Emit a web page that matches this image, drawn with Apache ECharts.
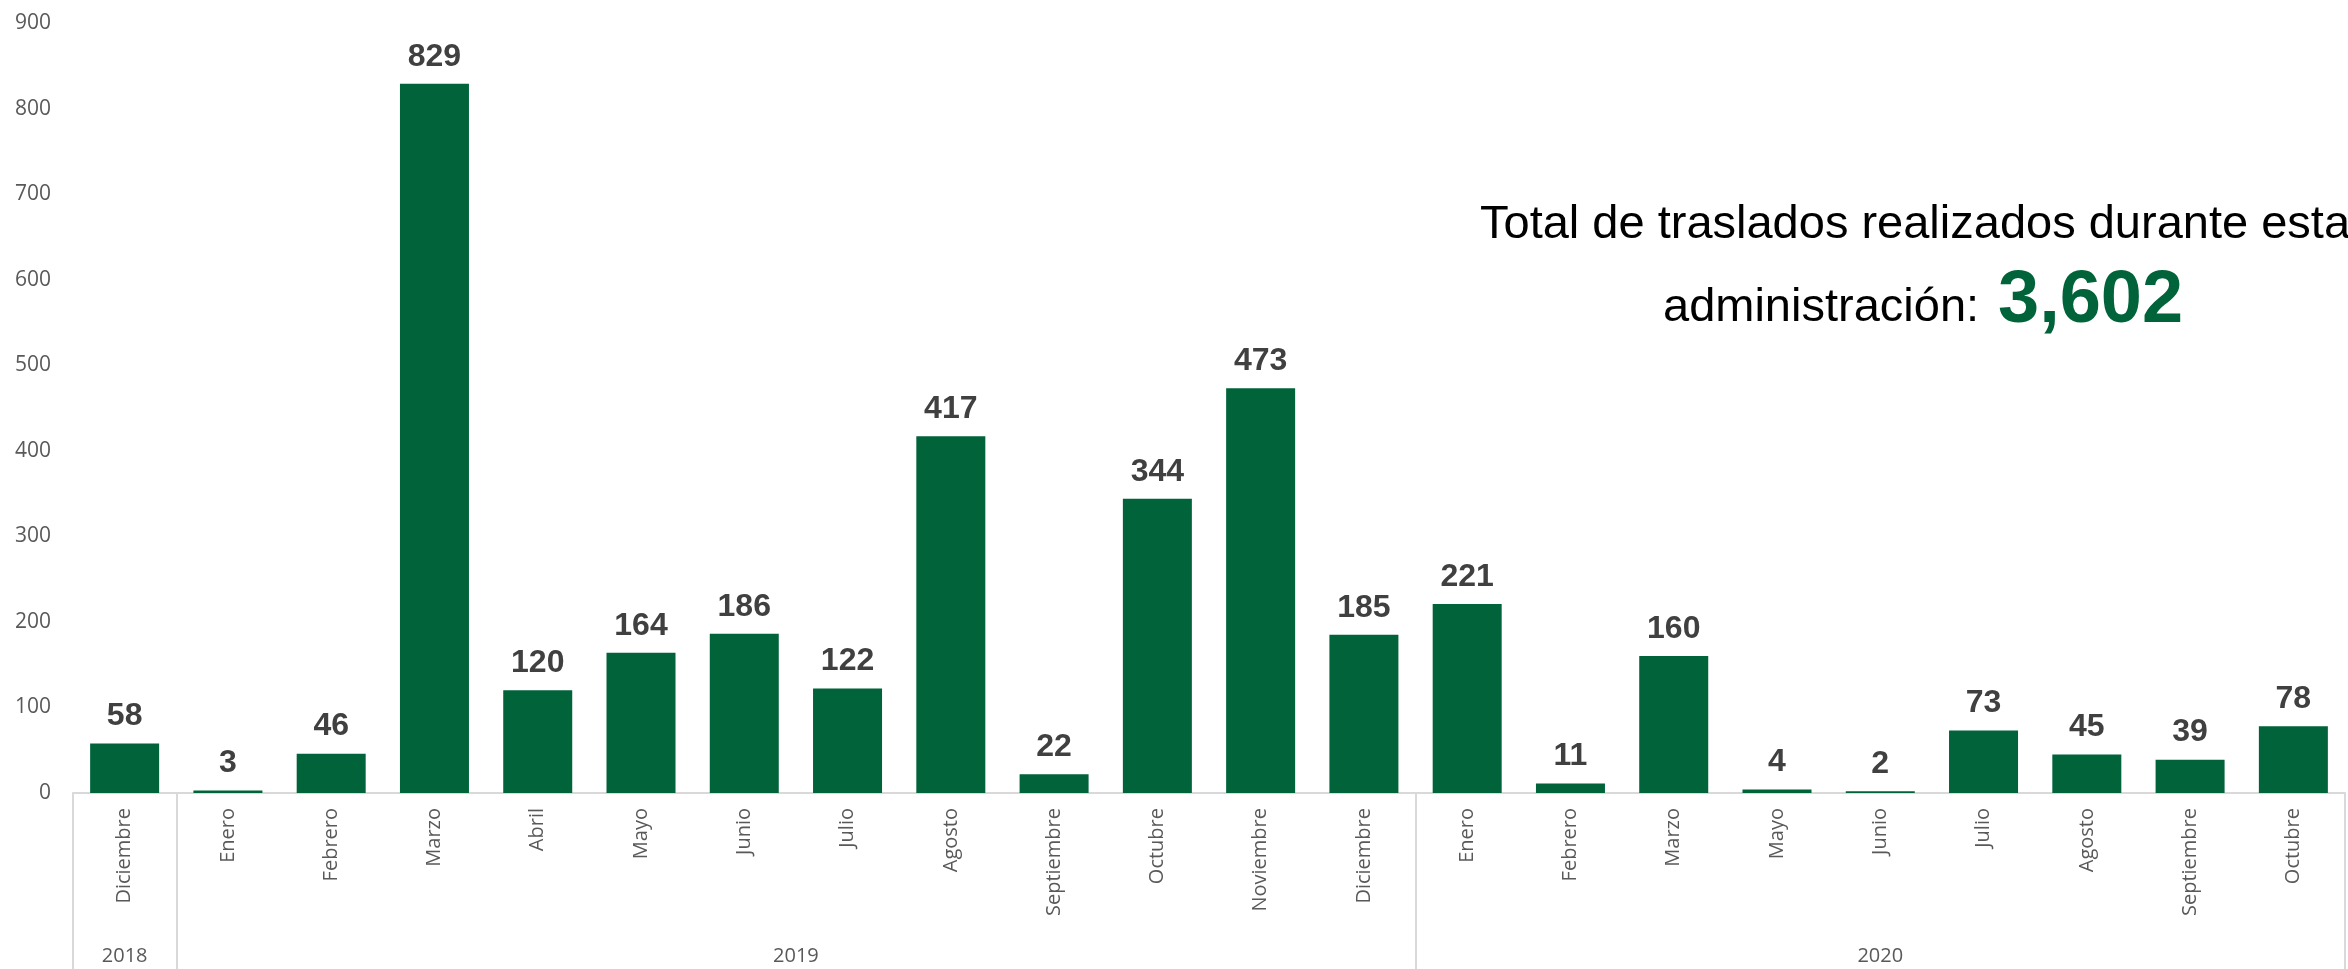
<!DOCTYPE html>
<html>
<head>
<meta charset="utf-8">
<script src="https://cdn.jsdelivr.net/npm/echarts@6/dist/echarts.min.js"></script>
<style>
html,body{margin:0;padding:0;background:#ffffff;}
#chart{width:2348px;height:969px;}
</style>
</head>
<body>
<div id="chart"></div>
<script>
var months = ['Diciembre','Enero','Febrero','Marzo','Abril','Mayo','Junio','Julio','Agosto','Septiembre','Octubre','Noviembre','Diciembre','Enero','Febrero','Marzo','Mayo','Junio','Julio','Agosto','Septiembre','Octubre'];
var traslados = [58,3,46,829,120,164,186,122,417,22,344,473,185,221,11,160,4,2,73,45,39,78];
var years = ['2018','2019','2020'];
var yearSizes = [1,12,9];
var yTicks = [0,100,200,300,400,500,600,700,800,900];
var totalLine1 = 'Total de traslados realizados durante esta';
var totalLine2 = 'administración:';
var totalValue = '3,602';

// group boundaries and centers (in category units)
var boundaries = [0];
var yearCenters = {};
(function(){
  var s = 0;
  for (var i = 0; i < yearSizes.length; i++) {
    yearCenters[(s + yearSizes[i] / 2).toFixed(1)] = years[i];
    s += yearSizes[i];
    boundaries.push(s);
  }
})();

var chart = echarts.init(document.getElementById('chart'), null, {renderer:'canvas'});
var option = {
  backgroundColor: '#ffffff',
  animation: false,
  grid: {left: 73, right: -13, top: 23, bottom: 176, containLabel: false},
  xAxis: [{
    type: 'category',
    data: months,
    boundaryGap: true,
    axisLine: {show: true, lineStyle: {color: '#d9d9d9', width: 2}},
    axisTick: {
      show: true,
      length: 176,
      interval: function(index){ return boundaries.indexOf(index) >= 0; },
      lineStyle: {color: '#d9d9d9', width: 2}
    },
    axisLabel: {
      interval: 0, rotate: 90, margin: 15,
      fontFamily: 'Open Sans', fontSize: 20, color: '#595959'
    }
  },{
    type: 'value',
    position: 'bottom',
    min: 0, max: 22, interval: 0.5,
    axisLine: {show: false},
    axisTick: {show: false},
    splitLine: {show: false},
    axisLabel: {
      margin: 153, showMinLabel: true, showMaxLabel: true,
      fontFamily: 'Open Sans', fontSize: 20, color: '#595959',
      formatter: function(v){ var k = v.toFixed(1); return yearCenters[k] || ''; }
    }
  }],
  yAxis: {
    type: 'value',
    min: yTicks[0], max: yTicks[yTicks.length-1], interval: 100,
    axisLine: {show: false},
    axisTick: {show: false},
    splitLine: {show: false},
    axisLabel: {margin: 22, fontFamily: 'Open Sans', fontSize: 21, color: '#595959'}
  },
  series: [{
    type: 'bar',
    xAxisIndex: 0,
    data: traslados,
    barWidth: 69,
    itemStyle: {color: '#00633A'},
    label: {
      show: true, position: 'top', distance: 11,
      fontFamily: 'Liberation Sans, Arial', fontWeight: 'bold', fontSize: 32, color: '#404040'
    }
  }],
  graphic: [{
    type: 'text', left: 1480, top: 202,
    style: {text: totalLine1, font: '47px "Liberation Sans", Arial', fill: '#000000'}
  },{
    type: 'text', left: 1663, top: 285,
    style: {text: totalLine2, font: '47px "Liberation Sans", Arial', fill: '#000000'}
  },{
    type: 'text', left: 1998, top: 265,
    style: {text: totalValue, font: 'bold 74px "Liberation Sans", Arial', fill: '#00633A'}
  }]
};
chart.setOption(option);
</script>
</body>
</html>
